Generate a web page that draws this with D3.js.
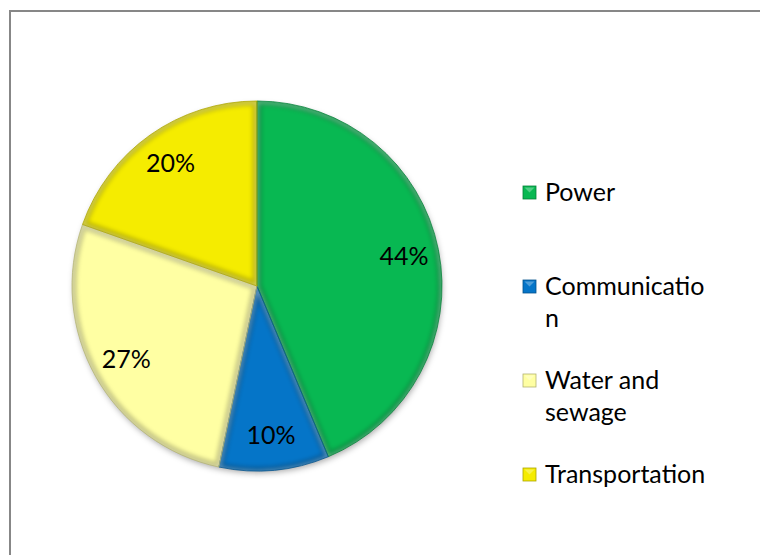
<!DOCTYPE html>
<html>
<head>
<meta charset="utf-8">
<script src="https://cdnjs.cloudflare.com/ajax/libs/d3/7.8.5/d3.min.js"></script>
<style>
  html, body { margin: 0; padding: 0; background: #fff; }
  svg { display: block; font-family: Lato, "Open Sans", sans-serif; }
</style>
</head>
<body>
<svg id="chart" width="760" height="555"></svg>
<script>
// Chart data ////////////////////////////////////////////
var categories = ["Power", "Communication", "Water and sewage", "Transportation"];
var shares = [43.7, 9.6, 27.1, 19.6];
var legendLines = [["Power"], ["Communicatio", "n"], ["Water and", "sewage"], ["Transportation"]];
var colors = ["#08b852", "#0575c8", "#ffffa3", "#f5ec00"];

(function() {

  "use strict";

  var app = {

    // Frame /////////////////////////////////////////////////
    frame: function(svg) {
    //////////////////////////////////////////////////////////
      svg.append("rect")
          .attr("x", 10).attr("y", 11)
          .attr("width", 900).attr("height", 700)
          .attr("fill", "none")
          .attr("stroke", "#878787")
          .attr("stroke-width", 2);
    },

    // Pie ///////////////////////////////////////////////////
    pie: function(svg) {
    //////////////////////////////////////////////////////////
      var cx = 257, cy = 286, r = 185;

      var defs = svg.append("defs");

      defs.append("filter")
          .attr("id", "shadow")
          .attr("x", "-20%").attr("y", "-20%")
          .attr("width", "140%").attr("height", "140%")
        .append("feDropShadow")
          .attr("dx", 1).attr("dy", 3)
          .attr("stdDeviation", 3)
          .attr("flood-color", "#000")
          .attr("flood-opacity", 0.35);

      defs.append("filter")
          .attr("id", "soft")
        .append("feGaussianBlur")
          .attr("stdDeviation", 2.2);

      var total = d3.sum(shares);
      var pct = d3.format(".0%");

      var pie = d3.pie().sort(null).value(function(d) { return d; });
      var arcs = pie(shares);

      var arc = d3.arc().innerRadius(0).outerRadius(r);
      var labelArc = d3.arc().innerRadius(r * 0.81).outerRadius(r * 0.81);

      var g = svg.append("g")
          .attr("transform", "translate(" + cx + "," + cy + ")");

      // Shadow under the whole disc
      g.append("circle")
          .attr("r", r - 1)
          .attr("fill", "#fff")
          .attr("filter", "url(#shadow)");

      arcs.forEach(function(a, i) {
        defs.append("clipPath")
            .attr("id", "clip-" + i)
          .append("path")
            .attr("d", arc(a));
      });

      var slice = g.selectAll("g.slice")
          .data(arcs)
          .enter()
          .append("g")
          .attr("class", "slice")
          .attr("clip-path", function(d, i) { return "url(#clip-" + i + ")"; });

      slice.append("path")
          .attr("d", arc)
          .attr("fill", function(d, i) { return colors[i]; });

      // Bevel: soft dark rim on the inside of each slice
      slice.append("path")
          .attr("d", arc)
          .attr("fill", "none")
          .attr("stroke", "#000")
          .attr("stroke-opacity", 0.24)
          .attr("stroke-width", 9)
          .attr("filter", "url(#soft)");

      // Bevel: light inner highlight
      slice.append("path")
          .attr("d", arc)
          .attr("fill", "none")
          .attr("stroke", "#fff")
          .attr("stroke-opacity", 0.35)
          .attr("stroke-width", 4)
          .attr("transform", "translate(0,1)")
          .attr("filter", "url(#soft)");

      g.selectAll("path.edge")
          .data(arcs)
          .enter()
          .append("path")
          .attr("class", "edge")
          .attr("d", arc)
          .attr("fill", "none")
          .attr("stroke", function(d, i) { return d3.color(colors[i]).darker(0.9); })
          .attr("stroke-width", 0.8);

      // Percent labels
      g.selectAll("text.pct")
          .data(arcs)
          .enter()
          .append("text")
          .attr("class", "pct")
          .attr("transform", function(d) { return "translate(" + labelArc.centroid(d) + ")"; })
          .attr("dy", "0.35em")
          .attr("text-anchor", "middle")
          .attr("font-size", 25)
          .attr("fill", "#000")
          .text(function(d) { return pct(d.value / total); });
    },

    // Legend ////////////////////////////////////////////////
    legend: function(svg) {
    //////////////////////////////////////////////////////////
      var y = d3.scaleLinear().domain([0, categories.length - 1]).range([201, 483]);

      var item = svg.selectAll("g.legend")
          .data(categories)
          .enter()
          .append("g")
          .attr("class", "legend")
          .attr("transform", function(d, i) { return "translate(523," + y(i) + ")"; });

      item.append("rect")
          .attr("x", 0).attr("y", -15)
          .attr("width", 13).attr("height", 13)
          .attr("fill", function(d, i) { return colors[i]; })
          .attr("stroke", function(d, i) { return d3.color(colors[i]).darker(1); })
          .attr("stroke-width", 0.8);

      item.append("path")
          .attr("d", "M1.5,-13.5 L11.5,-13.5 L6.5,-8.5 Z")
          .attr("fill", "#fff")
          .attr("fill-opacity", 0.3);

      item.append("text")
          .attr("x", 22)
          .attr("font-size", 25)
          .attr("fill", "#000")
          .selectAll("tspan")
          .data(function(d, i) { return legendLines[i]; })
          .enter()
          .append("tspan")
          .attr("x", 22)
          .attr("dy", function(d, j) { return j === 0 ? 0 : 32; })
          .text(function(d) { return d; });
    },

    //////////////////////////////////////////////////////////
    runApp: function() {
    //////////////////////////////////////////////////////////
      var svg = d3.select("#chart");
      app.frame(svg);
      app.pie(svg);
      app.legend(svg);
    }

  };

  app.runApp();

})();
</script>
</body>
</html>
